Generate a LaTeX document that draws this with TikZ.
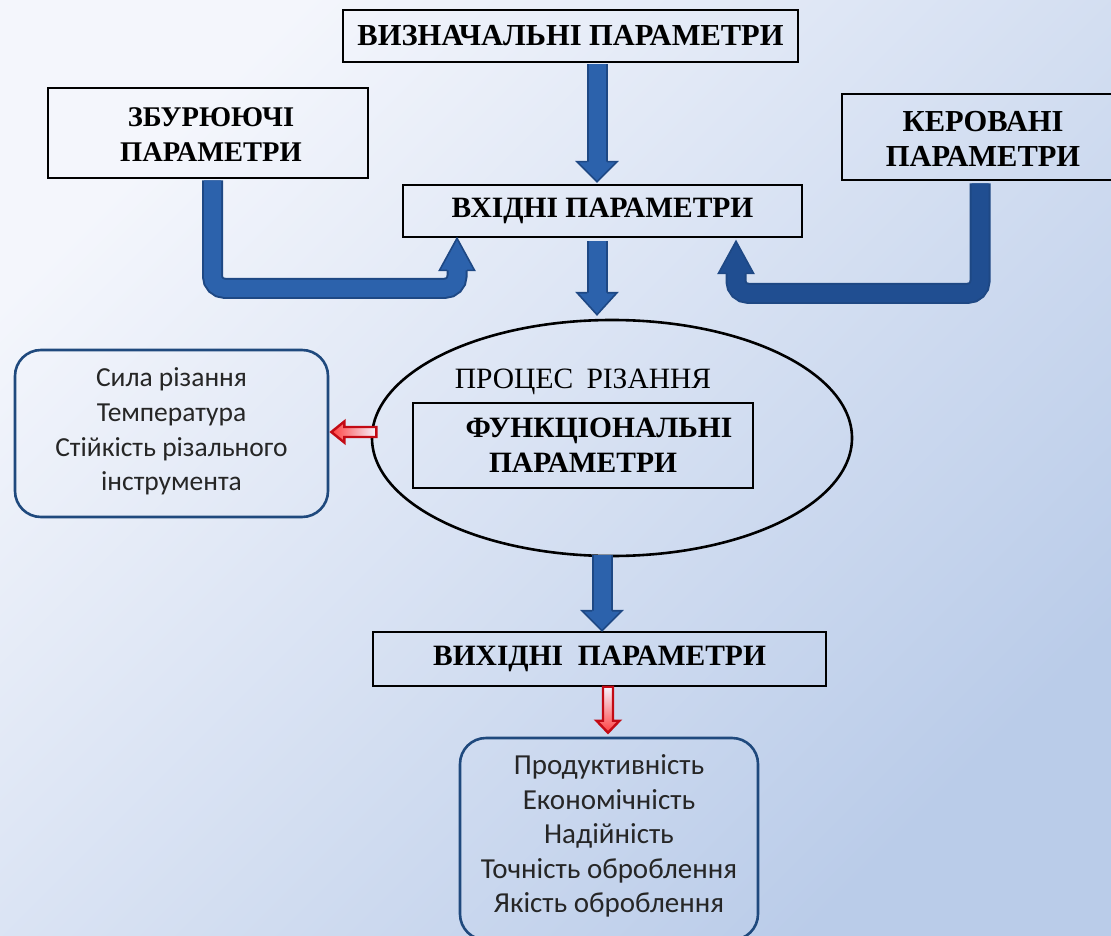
\documentclass[tikz,border=0pt]{standalone}
\usepackage{fontspec}
\setmainfont{Liberation Serif}
\newfontfamily\calfont{Carlito}
\usetikzlibrary{calc,shapes.geometric}
\definecolor{bgA}{RGB}{244,246,252}
\definecolor{bgB}{RGB}{186,204,233}
\definecolor{arrA}{RGB}{44,98,172}
\definecolor{arrB}{RGB}{30,72,132}
\definecolor{arrC}{RGB}{32,78,145}
\definecolor{rbord}{RGB}{31,73,125}
\definecolor{redB}{RGB}{195,10,20}
\newcommand\headdown[4]{% tip, half width, length, fill
  \filldraw[bhead,fill=#4] ($(#1)+(-10,-#3)$) -- ($(#1)+(-#2,-#3)$) -- (#1) -- ($(#1)+(#2,-#3)$) -- ($(#1)+(10,-#3)$);}
\newcommand\headup[4]{% tip, half width, length, fill
  \filldraw[bhead,fill=#4] ($(#1)+(-10,#3)$) -- ($(#1)+(-#2,#3)$) -- (#1) -- ($(#1)+(#2,#3)$) -- ($(#1)+(10,#3)$);}
\begin{document}
\begin{tikzpicture}[x=1pt,y=-1pt,
  hbox/.style={draw=black,line width=2.6pt,align=center,inner sep=0pt,
    font=\bfseries\fontsize{29.5}{35}\selectfont},
  htext/.style={align=center,inner sep=0pt,font=\bfseries\fontsize{29.5}{35}\selectfont},
  rbox/.style={draw=rbord,line width=2.6pt,rounded corners=26pt,inner sep=0pt},
  rtext/.style={align=center,inner sep=0pt,font=\calfont\fontsize{27.5}{34.6}\selectfont,text=black!85},
  bout/.style={draw=arrB,line width=21pt,rounded corners=12pt},
  bin/.style={draw=#1,line width=17pt,rounded corners=12pt},
  bhead/.style={draw=arrB,line width=1.6pt,line join=miter},
  redarr/.style={draw=redB,line width=2.4pt,line join=miter}]
\path[use as bounding box] (0,0) rectangle (1111,936);
\clip (0,0) rectangle (1111,936);
\shade[top color=bgA,bottom color=bgB,shading angle=45] (0,0) rectangle (1111,936);

% boxes
\node[hbox,minimum width=455,minimum height=52,font=\bfseries\fontsize{30.5}{35}\selectfont] (viz) at (570.5,36) {ВИЗНАЧАЛЬНІ ПАРАМЕТРИ};
\node[hbox,minimum width=320,minimum height=90] (zbur) at (208,133) {};
\node[htext,font=\bfseries\fontsize{28.5}{35}\selectfont] (zburt) at ($(zbur)+(3,2)$) {ЗБУРЮЮЧІ\\ПАРАМЕТРИ};
\node[hbox,minimum width=272,minimum height=86] (ker) at (978,137) {};
\node[htext,font=\bfseries\fontsize{30.5}{35}\selectfont] (kert) at ($(ker)+(5,2)$) {КЕРОВАНІ\\ПАРАМЕТРИ};
\node[hbox,minimum width=399,minimum height=52] (vkh) at (602.5,211) {ВХІДНІ ПАРАМЕТРИ};
\node[draw=black,line width=2.6pt,ellipse,minimum width=480,minimum height=236,inner sep=0pt] (proc) at (612,438) {};
\node[font=\fontsize{29.5}{32}\selectfont] (proclbl) at (583,382) {ПРОЦЕС\hspace{0.45em}РІЗАННЯ};
\node[hbox,minimum width=340,minimum height=85] (func) at (583,445.5) {\hspace*{32pt}ФУНКЦІОНАЛЬНІ\\ПАРАМЕТРИ};
\node[rbox,minimum width=313,minimum height=167] (lbox) at (171.5,433.5) {};
\node[rtext] (lboxt) at ($(lbox)+(0,-2)$) {Сила різання\\Температура\\Стійкість різального\\інструмента};
\node[rbox,minimum width=298,minimum height=202] (bbox) at (609,839) {};
\node[rtext,font=\calfont\fontsize{29}{34.5}\selectfont] (bboxt) at ($(bbox)+(0,-3)$) {Продуктивність\\Економічність\\Надійність\\Точність оброблення\\Якість оброблення};
\node[hbox,minimum width=453,minimum height=54] (vykh) at (599.5,659) {ВИХІДНІ\hspace{0.5em}ПАРАМЕТРИ};

% straight blue arrows
\coordinate (a1s) at ($(viz.south)+(26.5,1)$);
\coordinate (a1t) at ($(vkh.north)+(-5.5,-2)$);
\draw[bout] (a1s) -- ($(a1t)+(0,-19)$);
\draw[bin=arrA] (a1s) -- ($(a1t)+(0,-19)$);
\headdown{a1t}{20}{20}{arrA}

\coordinate (a2s) at ($(vkh.south)+(-5.5,3)$);
\coordinate (a2t) at ($(proc.north)+(-15,-4)$);
\draw[bout] (a2s) -- ($(a2t)+(0,-21)$);
\draw[bin=arrA] (a2s) -- ($(a2t)+(0,-21)$);
\headdown{a2t}{20}{22}{arrA}

\coordinate (a3s) at ($(proc.south)+(-10,-2)$);
\coordinate (a3t) at ($(vykh.north)+(2.5,0)$);
\draw[bout] (a3s) -- ($(a3t)+(0,-19)$);
\draw[bin=arrA] (a3s) -- ($(a3t)+(0,-19)$);
\headdown{a3t}{20}{20}{arrA}

% bent blue arrows
\coordinate (las) at ($(zbur.south)+(4.5,1)$);
\coordinate (lat) at ($(vkh.south)+(-145.5,0)$);
\draw[bout] (las) |- ($(lat)+(0,50)$) -- ($(lat)+(0,31)$);
\draw[bin=arrA] (las) |- ($(lat)+(0,50)$) -- ($(lat)+(0,31)$);
\headup{lat}{17.5}{32}{arrA}

\coordinate (ras) at ($(ker.south)+(2,2)$);
\coordinate (rat) at ($(vkh.south)+(133.5,3)$);
\draw[bout] (ras) |- ($(rat)+(0,52)$) -- ($(rat)+(0,31)$);
\draw[bin=arrC] (ras) |- ($(rat)+(0,52)$) -- ($(rat)+(0,31)$);
\headup{rat}{17.5}{32}{arrC}

% red hollow arrows
\coordinate (r1t) at ($(lbox.east)+(2,-1.5)$);
\filldraw[redarr,left color=red!75,right color=blue!4!white]
  ($(r1t)+(45,-5)$) -- ($(r1t)+(13,-5)$) -- ($(r1t)+(13,-10.5)$) -- (r1t)
  -- ($(r1t)+(13,10.5)$) -- ($(r1t)+(13,5)$) -- ($(r1t)+(45,5)$) -- cycle;
\coordinate (r2t) at ($(bbox.north)+(-1,-4)$);
\filldraw[redarr,bottom color=red!75,top color=blue!4!white]
  ($(r2t)+(-5,-46)$) -- ($(r2t)+(-5,-12)$) -- ($(r2t)+(-11.5,-12)$) -- (r2t)
  -- ($(r2t)+(11.5,-12)$) -- ($(r2t)+(5,-12)$) -- ($(r2t)+(5,-46)$) -- cycle;
\end{tikzpicture}
\end{document}
